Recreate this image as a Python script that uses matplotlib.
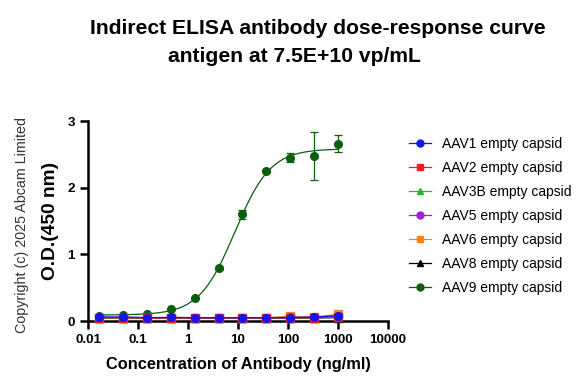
import numpy as np
import matplotlib
matplotlib.use("Agg")
import matplotlib.pyplot as plt
from matplotlib.lines import Line2D

plt.rcParams['font.family'] = ['Liberation Sans', 'DejaVu Sans']

conc = [0.0169, 0.0508, 0.152, 0.457, 1.37, 4.12, 12.3, 37.0, 111.0, 333.0, 1000.0]

series_names = ["AAV1 empty capsid", "AAV2 empty capsid", "AAV3B empty capsid",
                "AAV5 empty capsid", "AAV6 empty capsid", "AAV8 empty capsid",
                "AAV9 empty capsid"]
aav1 = [0.06, 0.06, 0.05, 0.055, 0.05, 0.05, 0.05, 0.05, 0.05, 0.055, 0.08]
aav2 = [0.05, 0.05, 0.045, 0.045, 0.045, 0.045, 0.045, 0.045, 0.05, 0.05, 0.06]
aav3b = [0.05, 0.05, 0.05, 0.05, 0.05, 0.05, 0.05, 0.05, 0.05, 0.05, 0.06]
aav5 = [0.055, 0.055, 0.05, 0.05, 0.05, 0.05, 0.05, 0.05, 0.055, 0.06, 0.08]
aav6 = [0.05, 0.05, 0.05, 0.05, 0.05, 0.05, 0.05, 0.05, 0.07, 0.06, 0.10]
aav8 = [0.045, 0.045, 0.045, 0.045, 0.045, 0.045, 0.045, 0.045, 0.045, 0.045, 0.05]
aav9 = [0.08, 0.09, 0.10, 0.18, 0.34, 0.79, 1.60, 2.25, 2.45, 2.47, 2.66]
aav9_err = [0.01, 0.01, 0.01, 0.01, 0.01, 0.02, 0.07, 0.02, 0.07, 0.36, 0.13]

colors = ["#1414F0", "#F01E1E", "#22BB22", "#A020E0", "#F5841F", "#000000", "#0B5E0B"]
markers = ["o", "s", "^", "o", "s", "^", "o"]
data = [aav1, aav2, aav3b, aav5, aav6, aav8, aav9]


def fourpl(x, p):
    bottom, top, logec50, hill = p
    return bottom + (top - bottom) / (1 + 10 ** ((logec50 - np.log10(x)) * hill))


def fit4pl(x, y):
    x = np.asarray(x, float)
    y = np.asarray(y, float)
    p = np.array([y.min(), y.max(), 1.0, 1.0])
    lam = 1e-3
    for _ in range(500):
        r = y - fourpl(x, p)
        J = np.zeros((len(x), 4))
        for k in range(4):
            dp = np.zeros(4)
            dp[k] = 1e-6
            J[:, k] = (fourpl(x, p + dp) - fourpl(x, p - dp)) / 2e-6
        A = J.T @ J
        g = J.T @ r
        step = np.linalg.solve(A + lam * np.diag(np.diag(A)), g)
        pn = p + step
        if np.sum((y - fourpl(x, pn)) ** 2) < np.sum(r ** 2):
            p = pn
            lam *= 0.5
        else:
            lam *= 4
    return p


fig = plt.figure(figsize=(5.84, 3.87), dpi=100)
ax = fig.add_axes([88 / 584, 1 - 321 / 387, 300 / 584, 200 / 387])

for i in range(6, -1, -1):
    y = data[i]
    if i == 6:
        p = fit4pl(conc, y)
        xs = np.logspace(np.log10(conc[0]), np.log10(conc[-1]), 300)
        ax.plot(xs, fourpl(xs, p), color=colors[i], lw=0.9, zorder=2)
        ax.errorbar(conc, y, yerr=aav9_err, fmt='none', ecolor=colors[i],
                    elinewidth=0.9, capsize=3, capthick=0.9, zorder=2)
        ax.plot(conc, y, ls='none', marker=markers[i], color=colors[i], ms=5.5,
                zorder=3, clip_on=False)
    else:
        ax.plot(conc, y, color=colors[i], lw=0.9, marker=markers[i], ms=5.5,
                zorder=3 + (6 - i), clip_on=False)

handles = [Line2D([], [], color=colors[i], marker=markers[i], ms=5, lw=0.9) for i in range(7)]
fig.legend(handles, series_names, loc='upper left', bbox_to_anchor=(403 / 584, 1 - 131 / 387),
           frameon=False, fontsize=10, handlelength=1.6, handletextpad=0.8,
           labelspacing=0.72, borderaxespad=0)

ax.set_xscale('log')
ax.set_xlim(0.01, 10000)
ax.set_ylim(0, 3)
ax.set_xticks([0.01, 0.1, 1, 10, 100, 1000, 10000])
ax.set_xticklabels(["0.01", "0.1", "1", "10", "100", "1000", "10000"])
ax.xaxis.set_minor_locator(matplotlib.ticker.NullLocator())
ax.set_yticks([0, 1, 2, 3])
for s in ['top', 'right']:
    ax.spines[s].set_visible(False)
for s in ['left', 'bottom']:
    ax.spines[s].set_linewidth(1.8)
ax.tick_params(axis='both', which='major', width=1.8, length=6, labelsize=9.7)
for lab in ax.get_xticklabels() + ax.get_yticklabels():
    lab.set_fontweight('bold')

ax.set_xlabel("Concentration of Antibody (ng/ml)", fontsize=11.8, fontweight='bold', labelpad=8)
ax.set_ylabel("O.D.(450 nm)", fontsize=13.8, fontweight='bold', labelpad=6)

fig.text(318 / 584, 1 - 28 / 387, "Indirect ELISA antibody dose-response curve",
         ha='center', va='center', fontsize=15.2, fontweight='bold')
fig.text(294 / 584, 1 - 57 / 387, "antigen at 7.5E+10 vp/mL",
         ha='center', va='center', fontsize=15.2, fontweight='bold')
fig.text(22.5 / 584, 1 - 225 / 387, "Copyright (c) 2025 Abcam Limited", rotation=90,
         ha='center', va='center', fontsize=10.3, color='#333333')

fig.savefig("out.png", dpi=100)
